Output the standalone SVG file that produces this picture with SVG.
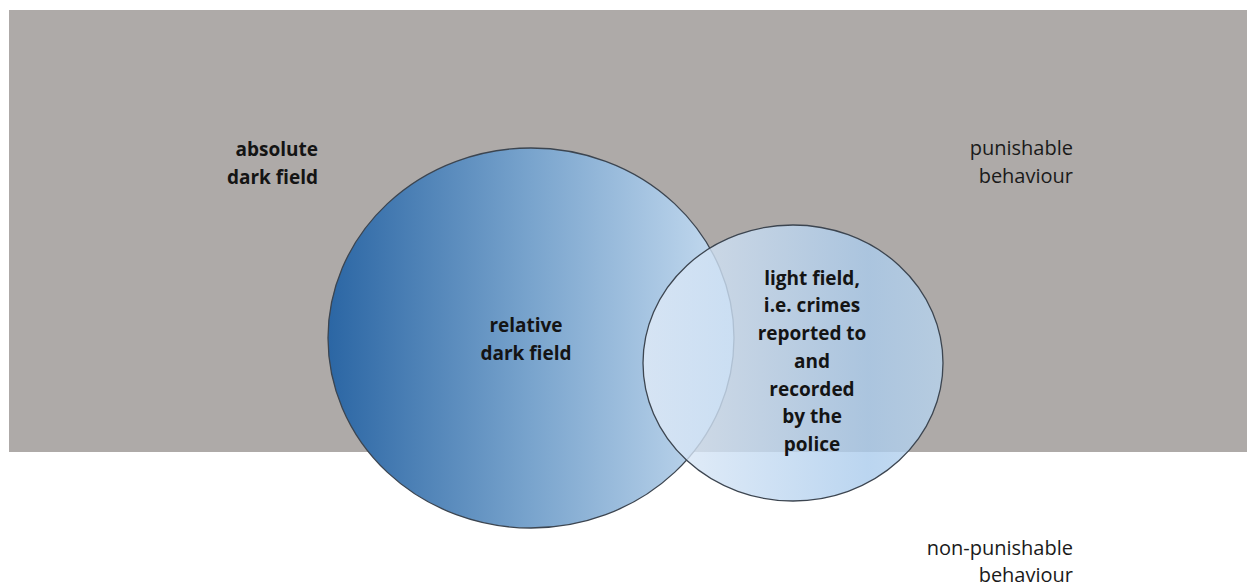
<svg xmlns="http://www.w3.org/2000/svg" width="1247" height="588" viewBox="0 0 1247 588">
  <style>
    .b { font-family: "Open Sans", "Liberation Sans", sans-serif; font-weight: bold; font-size: 19px; fill: #141414; }
    .r { font-family: "Open Sans", "Liberation Sans", sans-serif; font-size: 20px; fill: #1a1a1a; }
    .outline { stroke: #3c4550; stroke-width: 1.3; }
  </style>
  <defs>
    <linearGradient id="gBig" x1="0" y1="0" x2="1" y2="0">
      <stop offset="0" stop-color="#2b66a4"/>
      <stop offset="0.5" stop-color="#79a4cd"/>
      <stop offset="1" stop-color="#c8ddf1"/>
    </linearGradient>
    <linearGradient id="gSmall" x1="0" y1="0" x2="1" y2="0">
      <stop offset="0" stop-color="#e2ecf8"/>
      <stop offset="0.75" stop-color="#aacbec"/>
      <stop offset="1" stop-color="#b8d4ee"/>
    </linearGradient>
  </defs>
  <rect id="background" x="0" y="0" width="1247" height="588" fill="#ffffff"/>
  <g id="punishable-area">
    <rect x="9" y="10" width="1238" height="442" fill="#aeaaa8"/>
  </g>
  <g id="relative-dark-field">
    <ellipse cx="531" cy="338" rx="203" ry="190" fill="url(#gBig)" class="outline"/>
  </g>
  <g id="light-field">
    <ellipse cx="793" cy="363" rx="150" ry="138" fill="url(#gSmall)" fill-opacity="0.8" class="outline"/>
  </g>
  <g id="connectors"></g>
  <g id="labels">
    <text class="b" text-anchor="end" x="318" y="156">absolute</text>
    <text class="b" text-anchor="end" x="318" y="184">dark field</text>
    <text class="r" text-anchor="end" x="1073" y="155">punishable</text>
    <text class="r" text-anchor="end" x="1073" y="183">behaviour</text>
    <text class="r" text-anchor="end" x="1073" y="555">non-punishable</text>
    <text class="r" text-anchor="end" x="1073" y="582">behaviour</text>
    <text class="b" text-anchor="middle" x="526" y="332">relative</text>
    <text class="b" text-anchor="middle" x="526" y="360">dark field</text>
    <text class="b" text-anchor="middle" x="812" y="285">light field,</text>
    <text class="b" text-anchor="middle" x="812" y="312">i.e. crimes</text>
    <text class="b" text-anchor="middle" x="812" y="340">reported to</text>
    <text class="b" text-anchor="middle" x="812" y="368">and</text>
    <text class="b" text-anchor="middle" x="812" y="396">recorded</text>
    <text class="b" text-anchor="middle" x="812" y="423">by the</text>
    <text class="b" text-anchor="middle" x="812" y="451">police</text>
  </g>
</svg>
